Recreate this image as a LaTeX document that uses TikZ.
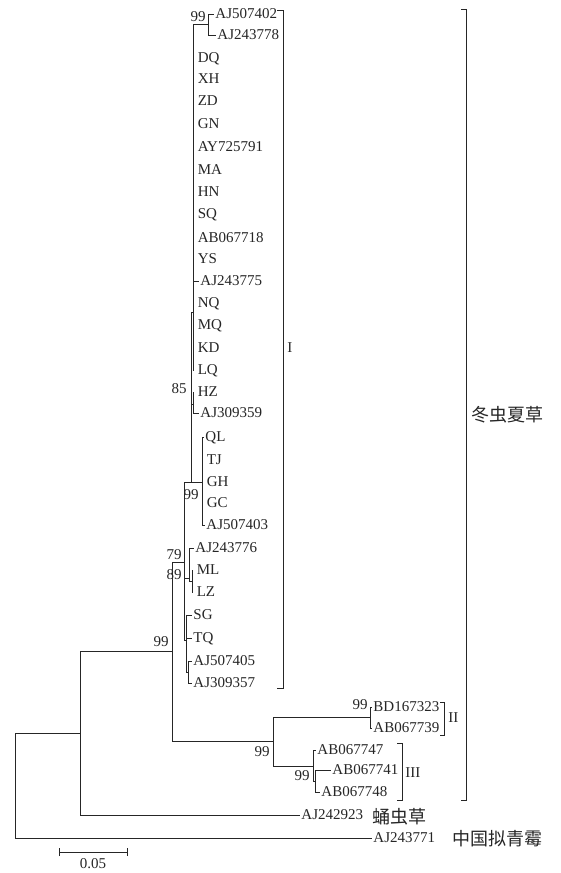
\documentclass[tikz,border=0pt]{standalone}
\usepackage{fontspec}
\setmainfont{Liberation Serif}
\newfontfamily\cjk{Noto Sans CJK SC}
\definecolor{ink}{HTML}{262626}
\begin{document}
\begin{tikzpicture}[x=1pt,y=-1pt,line width=0.9pt,
  every node/.style={font=\fontsize{15}{17}\selectfont,text=ink},
  leaf/.style={anchor=west,inner xsep=1.5pt,inner ysep=0pt,text height=9.9pt,text depth=0pt},
  zleaf/.style={leaf,inner xsep=4pt},
  bs/.style={anchor=east,inner sep=0pt,text height=9.9pt,text depth=0pt},
  clab/.style={anchor=west,inner sep=0pt,text height=9.9pt,text depth=0pt},
  cjklab/.style={anchor=west,inner sep=0pt,font=\cjk\fontsize{18}{20}\selectfont},
  edge/.style={draw=ink},
  brk/.style={draw=ink,line width=0.9pt}]
\fill[white] (0,0) rectangle (560,873);
\useasboundingbox (0,0) rectangle (560,873);
% internal nodes
\coordinate (root) at (15,785);
\coordinate (n80) at (80,733);
\coordinate (n172) at (172,651);
\coordinate (ni) at (184,562);
\coordinate (nu) at (191,482);
\coordinate (ntop) at (193,312);
\coordinate (n99a) at (208,24.5);
\coordinate (n85) at (193,404);
\coordinate (n99b) at (202,482);
\coordinate (n89) at (189,578);
\coordinate (nml) at (192,581);
\coordinate (nl) at (186,640);
\coordinate (naj) at (188,672);
\coordinate (n23) at (273,741);
\coordinate (nII) at (370,717.5);
\coordinate (nIII) at (313,766);
\coordinate (n99c) at (315,781);
% leaves
\node[leaf] (l01) at (213.5,14) {AJ507402};
\node[leaf] (l02) at (215.5,35) {AJ243778};
\node[zleaf] (l03) at (193.3,58) {DQ};
\node[zleaf] (l04) at (193.3,79) {XH};
\node[zleaf] (l05) at (193.3,101) {ZD};
\node[zleaf] (l06) at (193.3,124) {GN};
\node[zleaf] (l07) at (193.3,147) {AY725791};
\node[zleaf] (l08) at (193.3,170) {MA};
\node[zleaf] (l09) at (193.3,192) {HN};
\node[zleaf] (l10) at (193.3,214) {SQ};
\node[zleaf] (l11) at (193.3,238) {AB067718};
\node[zleaf] (l12) at (193.3,259) {YS};
\node[leaf] (l13) at (198.5,281) {AJ243775};
\node[zleaf] (l14) at (193.3,303) {NQ};
\node[zleaf] (l15) at (193.3,325) {MQ};
\node[zleaf] (l16) at (193.3,348) {KD};
\node[zleaf] (l17) at (193.3,370) {LQ};
\node[zleaf] (l18) at (193.3,392) {HZ};
\node[leaf] (l19) at (198.5,413) {AJ309359};
\node[leaf] (l20) at (203.5,437) {QL};
\node[zleaf] (l21) at (202.3,460) {TJ};
\node[zleaf] (l22) at (202.3,482) {GH};
\node[zleaf] (l23) at (202.3,503) {GC};
\node[leaf] (l24) at (204.5,525) {AJ507403};
\node[leaf] (l25) at (193.5,548) {AJ243776};
\node[zleaf] (l26) at (192.3,570) {ML};
\node[zleaf] (l27) at (192.3,592) {LZ};
\node[leaf] (l28) at (191.5,615) {SG};
\node[leaf] (l29) at (191.5,638) {TQ};
\node[leaf] (l30) at (191.5,661) {AJ507405};
\node[leaf] (l31) at (191.5,683) {AJ309357};
\node[leaf] (l32) at (371.5,707) {BD167323};
\node[leaf] (l33) at (371.5,728) {AB067739};
\node[leaf] (l34) at (315.5,750) {AB067747};
\node[leaf] (l35) at (330.5,770) {AB067741};
\node[leaf] (l36) at (319.5,792) {AB067748};
\node[leaf] (l37) at (299.5,815) {AJ242923};
\node[leaf] (l38) at (371.5,838) {AJ243771};
% edges to internal nodes
\foreach \p/\c in {root/n80,n80/n172,n172/ni,n172/n23,ni/nu,ni/n89,ni/nl,
  nu/ntop,nu/n85,nu/n99b,ntop/n99a,n89/nml,nl/naj,n23/nII,n23/nIII,nIII/n99c}
  \draw[edge] (\p) |- (\c);
% edges to leaves
\foreach \p/\c in {root/l38,n80/l37,n99a/l01,n99a/l02,
  ntop/l03,ntop/l04,ntop/l05,ntop/l06,ntop/l07,ntop/l08,ntop/l09,ntop/l10,
  ntop/l11,ntop/l12,ntop/l13,ntop/l14,ntop/l15,ntop/l16,ntop/l17,
  n85/l18,n85/l19,n99b/l20,n99b/l21,n99b/l22,n99b/l23,n99b/l24,
  n89/l25,nml/l26,nml/l27,nl/l28,nl/l29,naj/l30,naj/l31,
  nII/l32,nII/l33,nIII/l34,n99c/l35,n99c/l36}
  \draw[edge] (\p) |- (\c.west);
% bootstrap values
\node[bs] (b1) at (206,17) {99};
\node[bs] (b2) at (187,389) {85};
\node[bs] (b3) at (199,495) {99};
\node[bs] (b4) at (182,555) {79};
\node[bs] (b5) at (182,575) {89};
\node[bs] (b6) at (169,642) {99};
\node[bs] (b7) at (270,752) {99};
\node[bs] (b8) at (368,705) {99};
\node[bs] (b9) at (310,776) {99};
% clade brackets
\draw[brk] (277,10) -- (283,10) -- (283,688) -- (277,688);
\node[clab] (cI) at (287,348) {I};
\draw[brk] (440,702) -- (444,702) -- (444,735) -- (440,735);
\node[clab] (cII) at (448,718) {II};
\draw[brk] (397,743) -- (402,743) -- (402,800) -- (397,800);
\node[clab] (cIII) at (405,773) {III};
\draw[brk] (461,9) -- (466,9) -- (466,800) -- (461,800);
\node[cjklab] (sp1) at (471,415) {冬虫夏草};
\node[cjklab] (sp2) at (372,817) {蛹虫草};
\node[cjklab] (sp3) at (452,839) {中国拟青霉};
% scale bar
\coordinate (sbl) at (59,852);
\coordinate (sbr) at (127,852);
\draw[edge] (sbl) -- (sbr);
\draw[edge] ([yshift=-4pt]sbl) -- ([yshift=4pt]sbl);
\draw[edge] ([yshift=-4pt]sbr) -- ([yshift=4pt]sbr);
\node[inner sep=0pt,text height=9.9pt,text depth=0pt] (sbt) at (93,864) {0.05};
\end{tikzpicture}
\end{document}
